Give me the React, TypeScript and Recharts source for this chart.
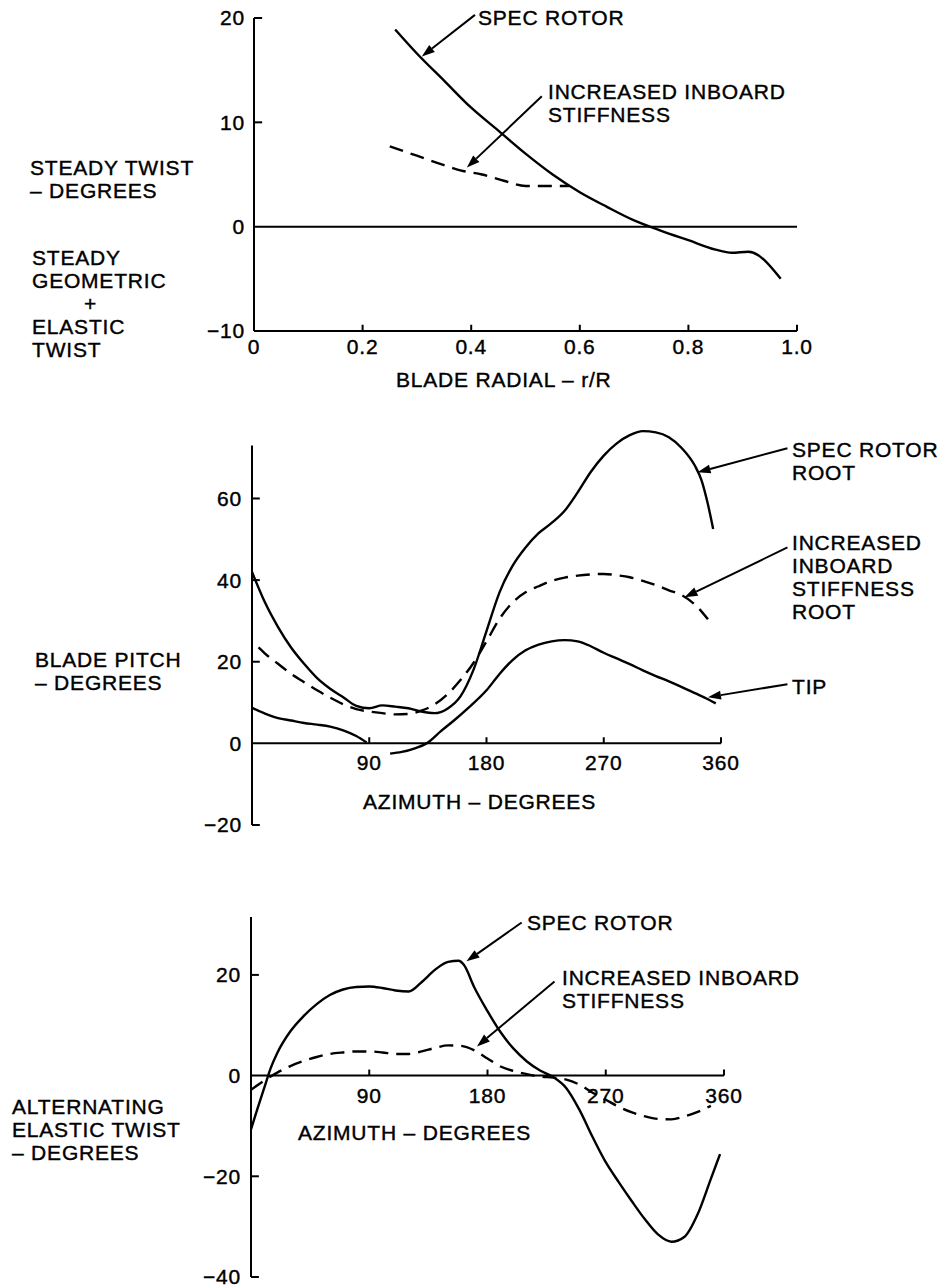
import React from 'react'
import { LineChart, Line, XAxis, YAxis, ReferenceLine } from 'recharts'

// top panel: steady twist along the blade
const radialTicks = [0, 0.2, 0.4, 0.6, 0.8, 1.0]
const twistTicks = [-10, 0, 10, 20]
const specR = [0.26, 0.3, 0.35, 0.4, 0.45, 0.5, 0.55, 0.6, 0.65, 0.7, 0.75, 0.8, 0.85, 0.88, 0.91, 0.97]
const specTwist = [18.9, 16.6, 14.0, 11.4, 9.2, 7.0, 5.0, 3.3, 1.9, 0.6, -0.4, -1.3, -2.2, -2.5, -2.4, -5.0]
const stiffR = [0.25, 0.3, 0.35, 0.38, 0.42, 0.46, 0.5, 0.55, 0.58]
const stiffTwist = [7.7, 6.8, 5.9, 5.4, 5.0, 4.4, 3.9, 3.9, 3.9]

// middle panel: blade pitch vs azimuth
const azTicks = [90, 180, 270, 360]
const pitchTicks = [-20, 0, 20, 40, 60]
const rootAz = [0, 10, 20, 30, 40, 50, 60, 70, 80, 90, 100, 110, 120, 130, 140, 150, 160, 170, 180, 190, 200, 210, 220, 230, 240, 250, 260, 270, 280, 290, 300, 310, 320, 330, 340, 345, 350, 354]
const rootPitch = [42, 34.5, 28.5, 23.5, 19.5, 16, 13.4, 11.3, 9.2, 8.6, 9.3, 9.0, 8.6, 7.8, 7.4, 8.5, 11.5, 18, 27.5, 37, 43.5, 48, 51.5, 54, 57, 61.5, 66.5, 70.5, 73.5, 75.5, 76.5, 76.2, 75, 72.3, 68, 64.5, 58.5, 52.5]
const stiffRootAz = [5, 10, 20, 30, 40, 50, 60, 70, 80, 90, 100, 110, 120, 130, 140, 150, 160, 170, 180, 190, 200, 210, 220, 230, 240, 250, 260, 270, 280, 290, 300, 310, 320, 330, 340, 350]
const stiffRootPitch = [23.5, 22, 19.5, 17, 15, 13, 11.2, 9.6, 8.4, 7.8, 7.4, 7.1, 7.2, 8.0, 9.5, 12, 15.5, 19.7, 25, 30.5, 34.5, 37, 38.5, 39.8, 40.6, 41.1, 41.4, 41.5, 41.2, 40.7, 39.8, 38.8, 37.5, 36.3, 34, 30.4]
const tipAz = [0, 10, 20, 30, 40, 50, 60, 70, 80, 88, 97, 106, 115, 125, 134, 145, 155, 165, 180, 190, 200, 210, 220, 230, 240, 250, 260, 270, 280, 290, 300, 310, 320, 330, 340, 350, 356]
const tipPitch = [8.7, 7.3, 6.2, 5.6, 5.0, 4.6, 4.1, 3.2, 1.8, 0.2, null, -2.5, -2.1, -1.2, 0, 3, 5.6, 8.4, 13, 17, 20.4, 22.8, 24.2, 25, 25.3, 25, 23.8, 22.2, 20.8, 19.4, 17.9, 16.5, 15.2, 13.8, 12.3, 10.8, 9.8]

// bottom panel: alternating elastic twist vs azimuth
const altTicks = [-40, -20, 0, 20]
const altSpecAz = [0, 5, 10, 15, 20, 30, 40, 50, 60, 70, 80, 90, 100, 110, 120, 130, 140, 150, 158, 162, 170, 180, 190, 200, 210, 220, 230, 240, 250, 260, 270, 280, 290, 300, 310, 320, 330, 340, 350, 357]
const altSpecTwist = [-10.7, -6.5, -2.5, 1.5, 4.5, 8.8, 11.8, 14.2, 16, 17.1, 17.6, 17.7, 17.4, 16.9, 16.7, 18.6, 21, 22.6, 22.8, 22, 17.5, 12.8, 8.6, 5.3, 2.8, 1.0, -0.3, -2.5, -6.8, -12.2, -17.2, -21.2, -25, -28.6, -31.6, -33, -32, -27.5, -20.5, -15.6]
const altStiffAz = [0, 10, 20, 30, 40, 50, 60, 70, 80, 90, 100, 110, 120, 130, 140, 150, 160, 170, 180, 190, 200, 210, 220, 230, 240, 250, 260, 270, 280, 290, 300, 310, 320, 330, 340, 350]
const altStiffTwist = [-2.8, -1, 0.6, 1.9, 2.9, 3.7, 4.3, 4.6, 4.8, 4.8, 4.6, 4.3, 4.3, 4.8, 5.5, 6, 5.9, 5, 3.4, 1.8, 0.9, 0.3, -0.2, -0.4, -0.8, -1.8, -3.4, -4.8, -6.2, -7.3, -8.1, -8.6, -8.7, -8.1, -7.2, -6]

const pts = (xs: number[], ys: (number | null)[]) => xs.map((x, i) => ({ x, y: ys[i] }))

const FONT = '"Liberation Sans", Arial, sans-serif'
const tickStyle = { fill: '#000', fontSize: 21, fontFamily: FONT, stroke: '#000', strokeWidth: 0.4, letterSpacing: 0.8 }
const axisStroke = { stroke: '#000', strokeWidth: 2 }
const minus = (v: number) => (v < 0 ? '\u2212' + Math.abs(v) : String(v))

const Arrow = (props: any) => {
  const { x1, y1, x2, y2 } = props
  const a = Math.atan2(y2 - y1, x2 - x1)
  const len = 13
  const w = 4.5
  const bx = x2 - len * Math.cos(a)
  const by = y2 - len * Math.sin(a)
  const p = `${x2},${y2} ${bx - w * Math.sin(a)},${by + w * Math.cos(a)} ${bx + w * Math.sin(a)},${by - w * Math.cos(a)}`
  return (
    <g>
      <line x1={x1} y1={y1} x2={bx} y2={by} stroke="#000" strokeWidth={2} />
      <polygon points={p} fill="#000" />
    </g>
  )
}

const Note = ({ x, y, lines }: { x: number; y: number; lines: string[] }) => (
  <div style={{ position: 'absolute', left: x, top: y - 12, lineHeight: '23px', whiteSpace: 'nowrap' }}>
    {lines.map((l) => (
      <div key={l}>{l}</div>
    ))}
  </div>
)

const lineProps = { stroke: '#000', strokeWidth: 2.4, dot: false, isAnimationActive: false, type: 'monotone' as const }
const dash = '14 8'

// short inward tick marks, drawn through the chart scales
const seg = (key: string, x1: number, y1: number, x2: number, y2: number, label?: any) => (
  <ReferenceLine
    key={key}
    segment={[{ x: x1, y: y1 }, { x: x2, y: y2 }]}
    stroke="#000"
    strokeWidth={2}
    ifOverflow="visible"
    label={label}
  />
)

const azimuthAxis = (tickLen: number) => [
  seg('zero', 0, 0, 360, 0),
  ...azTicks.map((t) => seg('az' + t, t, 0, t, tickLen, { value: String(t), position: 'bottom', offset: 12, ...tickStyle })),
]

const yTickMarks = (ticks: number[], len: number) => ticks.map((v) => seg('y' + v, 0, v, len, v))

export default function App() {
  return (
    <div
      style={{
        position: 'absolute',
        left: 0,
        top: 0,
        width: 941,
        height: 1287,
        overflow: 'hidden',
        background: '#fff',
        fontFamily: FONT,
        fontSize: 21,
        letterSpacing: '0.8px',
        color: '#000',
        WebkitTextStroke: '0.4px #000',
      }}
    >
      <div style={{ position: 'absolute', left: 0, top: 0 }}>
        <LineChart width={941} height={380} margin={{ top: 18, right: 144, bottom: 9, left: 194 }}>
          <XAxis
            type="number"
            dataKey="x"
            domain={[0, 1]}
            ticks={radialTicks}
            tickFormatter={(v: number) => (v === 0 ? '0' : v.toFixed(1))}
            height={40}
            axisLine={axisStroke}
            tickLine={false}
            tickSize={0}
            tickMargin={8}
            tick={tickStyle}
            interval={0}
          />
          <YAxis
            type="number"
            domain={[-10, 20]}
            ticks={twistTicks}
            tickFormatter={minus}
            width={60}
            axisLine={axisStroke}
            tickLine={false}
            tickSize={0}
            tickMargin={9}
            tick={tickStyle}
            interval={0}
          />
          <ReferenceLine y={0} stroke="#000" strokeWidth={2} />
          {radialTicks.slice(1).map((t) => seg('r' + t, t, -10, t, -9.4))}
          {yTickMarks([10, 20], 0.015)}
          <Line {...lineProps} data={pts(specR, specTwist)} dataKey="y" />
          <Line {...lineProps} data={pts(stiffR, stiffTwist)} dataKey="y" strokeDasharray={dash} />
          <ReferenceLine segment={[{ x: 0.407, y: 20.3 }, { x: 0.309, y: 16.3 }]} shape={Arrow} ifOverflow="visible" />
          <ReferenceLine segment={[{ x: 0.53, y: 12.5 }, { x: 0.392, y: 5.66 }]} shape={Arrow} ifOverflow="visible" />
        </LineChart>
      </div>

      <div style={{ position: 'absolute', left: 0, top: 400 }}>
        <LineChart width={941} height={440} margin={{ top: 25, right: 220, bottom: 15, left: 192 }}>
          <XAxis type="number" dataKey="x" domain={[0, 360]} hide />
          <YAxis
            type="number"
            domain={[-20, 78]}
            allowDataOverflow
            ticks={pitchTicks}
            tickFormatter={minus}
            width={60}
            axisLine={false}
            tickLine={false}
            tickSize={0}
            tickMargin={10}
            tick={tickStyle}
            interval={0}
          />
          {seg('yaxis', 0, -20, 0, 73)}
          {yTickMarks([-20, 20, 40, 60], 6)}
          {azimuthAxis(1.5)}
          <Line {...lineProps} data={pts(rootAz, rootPitch)} dataKey="y" />
          <Line {...lineProps} data={pts(stiffRootAz, stiffRootPitch)} dataKey="y" strokeDasharray={dash} />
          <Line {...lineProps} data={pts(tipAz, tipPitch)} dataKey="y" />
          <ReferenceLine segment={[{ x: 411, y: 72.3 }, { x: 342, y: 66.4 }]} shape={Arrow} ifOverflow="visible" />
          <ReferenceLine segment={[{ x: 411, y: 48 }, { x: 332, y: 35.8 }]} shape={Arrow} ifOverflow="visible" />
          <ReferenceLine segment={[{ x: 411, y: 14.5 }, { x: 350, y: 11.3 }]} shape={Arrow} ifOverflow="visible" />
        </LineChart>
      </div>

      <div style={{ position: 'absolute', left: 0, top: 880 }}>
        <LineChart width={941} height={407} margin={{ top: 37, right: 217, bottom: 10, left: 191 }}>
          <XAxis type="number" dataKey="x" domain={[0, 360]} hide />
          <YAxis
            type="number"
            domain={[-40, 31.5]}
            allowDataOverflow
            ticks={altTicks}
            tickFormatter={minus}
            width={60}
            axisLine={axisStroke}
            tickLine={false}
            tickSize={0}
            tickMargin={10}
            tick={tickStyle}
            interval={0}
          />
          {yTickMarks([-40, -20, 20], 6)}
          {azimuthAxis(1.2)}
          <Line {...lineProps} data={pts(altSpecAz, altSpecTwist)} dataKey="y" />
          <Line {...lineProps} data={pts(altStiffAz, altStiffTwist)} dataKey="y" strokeDasharray={dash} />
          <ReferenceLine segment={[{ x: 206, y: 30.4 }, { x: 164, y: 22.7 }]} shape={Arrow} ifOverflow="visible" />
          <ReferenceLine segment={[{ x: 231, y: 18.7 }, { x: 172, y: 5.8 }]} shape={Arrow} ifOverflow="visible" />
        </LineChart>
      </div>

      {/* top panel text */}
      <Note x={30} y={168} lines={['STEADY TWIST', '\u2013 DEGREES']} />
      <Note x={32} y={258} lines={['STEADY', 'GEOMETRIC']} />
      <Note x={84} y={304} lines={['+']} />
      <Note x={32} y={327} lines={['ELASTIC', 'TWIST']} />
      <Note x={478} y={18} lines={['SPEC ROTOR']} />
      <Note x={548} y={92} lines={['INCREASED INBOARD', 'STIFFNESS']} />
      <Note x={396} y={380} lines={['BLADE RADIAL \u2013 r/R']} />

      {/* middle panel text */}
      <Note x={35} y={660} lines={['BLADE PITCH', '\u2013 DEGREES']} />
      <Note x={792} y={450} lines={['SPEC ROTOR', 'ROOT']} />
      <Note x={792} y={543} lines={['INCREASED', 'INBOARD', 'STIFFNESS', 'ROOT']} />
      <Note x={792} y={687} lines={['TIP']} />
      <Note x={363} y={802} lines={['AZIMUTH \u2013 DEGREES']} />

      {/* bottom panel text */}
      <Note x={12} y={1107} lines={['ALTERNATING', 'ELASTIC TWIST', '\u2013 DEGREES']} />
      <Note x={298} y={1133} lines={['AZIMUTH \u2013 DEGREES']} />
      <Note x={527} y={923} lines={['SPEC ROTOR']} />
      <Note x={562} y={978} lines={['INCREASED INBOARD', 'STIFFNESS']} />
    </div>
  )
}
